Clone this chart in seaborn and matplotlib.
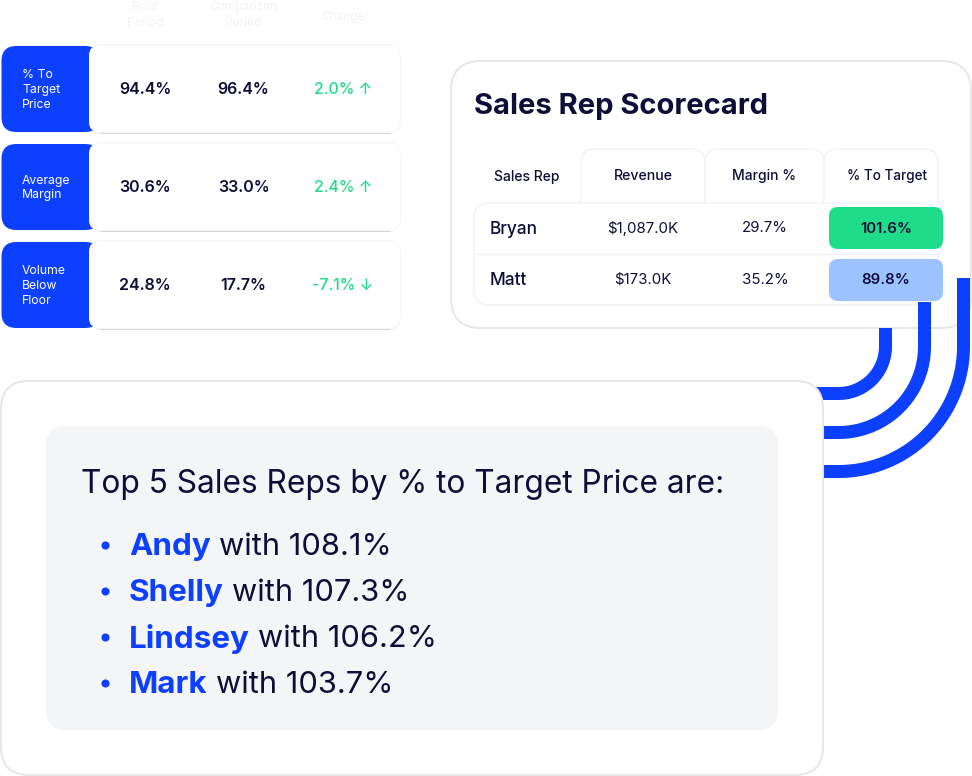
import numpy as np
import pandas as pd
import seaborn as sns
import matplotlib.pyplot as plt
from matplotlib.patches import FancyBboxPatch

# left kpi cards
kpi_labels = ['% To\nTarget\nPrice', 'Average\nMargin', 'Volume\nBelow\nFloor']
prior_vals = ['94.4%', '30.6%', '24.8%']
comp_vals = ['96.4%', '33.0%', '17.7%']
change_vals = ['2.0% ↑', '2.4% ↑', '-7.1% ↓']
kpi_headers = ['Prior\nPeriod', 'Comparison\nPeriod', 'Change']

# scorecard
score_title = 'Sales Rep Scorecard'
score_cols = ['Sales Rep', 'Revenue', 'Margin %', '% To Target']
reps = ['Bryan', 'Matt']
revenue = ['$1,087.0K', '$173.0K']
margin = ['29.7%', '35.2%']
to_target = ['101.6%', '89.8%']

# top reps text
top_title = 'Top 5 Sales Reps by % to Target Price are:'
top_names = ['Andy', 'Shelly', 'Lindsey', 'Mark']
top_vals = ['108.1%', '107.3%', '106.2%', '103.7%']

BLUE = '#0d3fff'
NAVY = '#0e0e38'
GREEN = '#1fdc8a'
LIGHT_BLUE = '#9cc3ff'
EDGE = '#e8e8ea'
FONT = 'Inter'

sns.set_theme(style='white')
plt.rcParams['font.family'] = [FONT, 'DejaVu Sans']

fig = plt.figure(figsize=(9.72, 7.76), dpi=100)
ax = fig.add_axes([0, 0, 1, 1])
ax.set_xlim(0, 972)
ax.set_ylim(776, 0)
ax.axis('off')


def card(x0, y0, x1, y1, r, fc='white', ec='none', lw=0, z=1):
    p = FancyBboxPatch((x0 + r, y0 + r), x1 - x0 - 2 * r, y1 - y0 - 2 * r,
                       boxstyle='round,pad=%f,rounding_size=%f' % (r, r),
                       fc=fc, ec=ec, lw=lw, zorder=z)
    ax.add_patch(p)
    return p


def label(x, y, s, size, color=NAVY, weight='normal', ha='center', z=10, **kw):
    return ax.text(x, y, s, fontsize=size, color=color, fontweight=weight,
                   ha=ha, va='center', zorder=z, **kw)


# kpi rows
row_tops = [46, 144, 242]
for i, top in enumerate(row_tops):
    card(89, top - 1, 400, top + 87, 12, ec='#f0f0f1', lw=0.8, z=1)
    ax.plot([100, 390], [top + 87, top + 87], color='#d6d6d9', lw=0.7, zorder=1.5)
    card(1.5, top, 100, top + 86, 15, fc=BLUE, z=2)
    card(89, top - 0.5, 400, top + 86, 10, z=3)
    ax.text(22, top + 44, kpi_labels[i], fontsize=8.8, color='white', va='center',
            ha='left', linespacing=1.3, zorder=10)
    label(145, top + 43, prior_vals[i], 11.5, weight='semibold')
    label(243.5, top + 43, comp_vals[i], 11.5, weight='semibold')
    label(343, top + 43, change_vals[i], 11.4, color=GREEN, weight='medium')

for x, h in zip([145, 243.5, 343], kpi_headers):
    label(x, 15 if '\n' in h else 17, h, 8.6, color='#f2f2f4', linespacing=1.35)

# scorecard card
card(451, 61, 971, 328, 30, ec=EDGE, lw=1.5, z=1)
label(474, 106, score_title, 21, weight='bold', ha='left')

col_edges = [581, 705, 824, 938]
for x0, x1 in zip(col_edges[:-1], col_edges[1:]):
    card(x0, 149, x1, 220, 14, ec='#f3f3f5', lw=1, z=2)
card(474, 203, 938, 305, 16, ec='#f3f3f5', lw=1, z=3)
ax.plot([475, 937], [253.5, 253.5], color='#f3f3f5', lw=1, zorder=4)

label(526.5, 177, score_cols[0], 10, weight='medium')
label(643, 176, score_cols[1], 10.2, weight='medium')
label(764, 176, score_cols[2], 10, weight='medium')
label(887.5, 176, score_cols[3], 9.7, weight='medium')

row_y = [228, 279]
cell_y = [228, 280]
cell_colors = [GREEN, LIGHT_BLUE]
for i, y in enumerate(row_y):
    label(490, y + 1.5, reps[i], 12.4, weight='medium', ha='left')
    label(643, y + 0.5, revenue[i], 10.8)
    label(765, y + 0.5, margin[i], 10.8)
    card(829, cell_y[i] - 21, 943, cell_y[i] + 21, 9, fc=cell_colors[i], z=5)
    label(886, y + 1, to_target[i], 10.8, weight='semibold')

# connector arcs, concentric around one corner point
cx, cy = 838.5, 346.5
arc_radius = [47, 86, 125]
arc_top = [328, 302, 278]
theta = np.linspace(0, np.pi / 2, 60)
for r, t in zip(arc_radius, arc_top):
    xs = np.r_[cx + r, cx + r * np.cos(theta), 816]
    ys = np.r_[t, cy + r * np.sin(theta), cy + r]
    ax.plot(xs, ys, color=BLUE, lw=13 * 0.72, solid_capstyle='butt',
            solid_joinstyle='round', zorder=6)

# bottom card sits above the arcs
card(1, 381, 823, 775, 28, ec=EDGE, lw=1.5, z=7)
card(46, 426, 778, 730, 20, fc='#f4f5f7', z=8)

label(81, 485, top_title, 22.8, ha='left')

list_y = [545, 591, 637, 683]
bullets = pd.DataFrame({'x': [105] * len(list_y), 'y': list_y})
sns.scatterplot(data=bullets, x='x', y='y', ax=ax, color=BLUE, s=34,
                linewidth=0, zorder=10, legend=False)
ax.set_xlim(0, 972)
ax.set_ylim(776, 0)
ax.axis('off')

fig.canvas.draw()
rend = fig.canvas.get_renderer()
for name, val, y in zip(top_names, top_vals, list_y):
    t = label(129, y + 2, name, 22.6, color=BLUE, weight='bold', ha='left')
    bb = t.get_window_extent(rend)
    x_end = ax.transData.inverted().transform((bb.x1, bb.y0))[0]
    label(x_end + 8, y + 2, 'with ' + val, 22.2, ha='left')

fig.savefig('out.png', dpi=100, facecolor='white')
